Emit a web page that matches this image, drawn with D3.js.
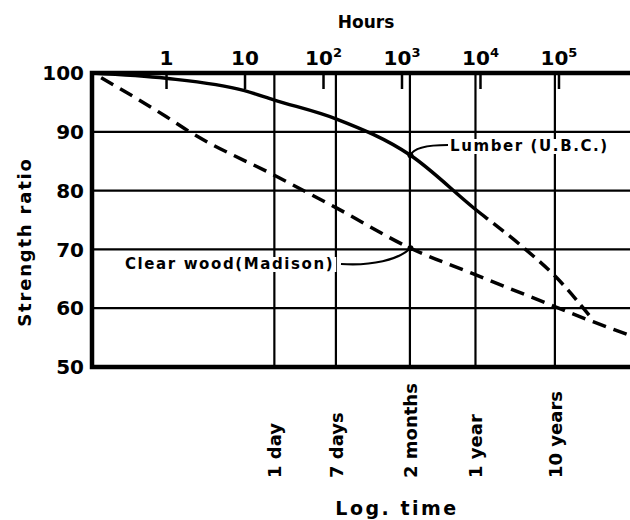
<!DOCTYPE html>
<meta charset="utf-8">
<style>
body { margin: 0; background: #fff; }
text { font-family: "DejaVu Sans", sans-serif; font-weight: bold; fill: #000; }
</style>
<svg width="630" height="520"></svg>
<script src="https://cdn.jsdelivr.net/npm/d3@7"></script>
<script>

// top axis: hours
var hourTicks = [1, 10, 100, 1000, 10000, 100000];
// bottom axis: calendar times (position in hours as drawn)
var timeLabels = ["1 day", "7 days", "2 months", "1 year", "10 years"];
var timeHours = [24, 146, 1280, 8760, 90000];
var ratioTicks = [50, 60, 70, 80, 90, 100];

// Lumber (U.B.C.) - solid, turns dashed after about 1 year
var lumberHours = [0.114, 1, 10, 24, 146, 1300, 8400, 33000, 93000, 275000];
var lumberRatio = [100, 99.1, 97, 95.4, 92.2, 86, 77, 70.7, 65.3, 58.0];
var lumberSolidUntil = 11900;

// Clear wood (Madison) - dashed
var clearHours = [0.149, 1, 2, 24, 146, 1300, 8400, 93000, 275000, 815000];
var clearRatio = [99.2, 92.6, 90, 82.6, 77.1, 70.2, 65.8, 60.2, 57.7, 55.4];

var svg = d3.select("svg");
var plotL = 92, plotR = 630, plotT = 73, plotB = 367;

var x = d3.scaleLog().domain([0.114, 815000]).range([plotL, plotR]);
var y = d3.scaleLinear().domain([50, 100]).range([plotB, plotT]);

var defs = svg.append("defs");
defs.append("clipPath").attr("id", "plot")
  .append("rect").attr("x", plotL).attr("y", plotT - 2)
  .attr("width", plotR - plotL).attr("height", plotB - plotT + 4);
defs.append("clipPath").attr("id", "solidPart")
  .append("rect").attr("x", plotL).attr("y", plotT - 2)
  .attr("width", x(lumberSolidUntil) - plotL).attr("height", plotB - plotT + 4);
defs.append("clipPath").attr("id", "dashPart")
  .append("rect").attr("x", x(lumberSolidUntil)).attr("y", plotT - 2)
  .attr("width", plotR - x(lumberSolidUntil)).attr("height", plotB - plotT + 4);

// grid
var grid = svg.append("g").attr("stroke", "#000").attr("stroke-width", 2.2);
grid.selectAll(".h").data(ratioTicks.slice(1, -1)).enter().append("line")
    .attr("x1", plotL).attr("x2", plotR)
    .attr("y1", function(d) { return y(d); })
    .attr("y2", function(d) { return y(d); });
grid.selectAll(".v").data(timeHours).enter().append("line")
    .attr("x1", function(d) { return x(d); })
    .attr("x2", function(d) { return x(d); })
    .attr("y1", plotT).attr("y2", plotB);

// top axis with inward ticks
var topAxis = svg.append("g")
    .attr("transform", "translate(0," + plotT + ")")
    .call(d3.axisTop(x).tickValues(hourTicks).tickSize(-16).tickPadding(8).tickFormat(""));
topAxis.select(".domain").remove();
topAxis.selectAll(".tick line").attr("stroke", "#000").attr("stroke-width", 2.5);
topAxis.selectAll(".tick text").each(function(d) {
  var t = d3.select(this).attr("font-size", 20);
  var e = Math.round(Math.log10(d));
  if (e == 0) t.text("1");
  else if (e == 1) t.text("10");
  else {
    t.append("tspan").text("10");
    t.append("tspan").attr("font-size", 13).attr("dy", -8).text(e);
  }
});

// frame (left, top, bottom)
svg.append("path")
    .attr("d", "M" + plotR + "," + plotT + "H" + plotL + "V" + plotB + "H" + plotR)
    .attr("fill", "none").attr("stroke", "#000").attr("stroke-width", 4.5);

// y labels
svg.append("g").selectAll("text").data(ratioTicks).enter().append("text")
    .attr("x", 84).attr("y", function(d) { return y(d); })
    .attr("dy", "0.36em").attr("text-anchor", "end")
    .attr("font-size", 20).text(function(d) { return d; });

svg.append("text")
    .attr("transform", "translate(31,242) rotate(-90)")
    .attr("text-anchor", "middle").attr("font-size", 18)
    .attr("letter-spacing", 1.8).text("Strength ratio");

svg.append("text").attr("x", 366).attr("y", 28)
    .attr("text-anchor", "middle").attr("font-size", 17).text("Hours");

// bottom rotated labels
svg.append("g").selectAll("text").data(timeHours).enter().append("text")
    .attr("transform", function(d) { return "translate(" + (x(d) + 7) + ",478) rotate(-90)"; })
    .attr("font-size", 18)
    .text(function(d, i) { return timeLabels[i]; });

svg.append("text").attr("x", 397).attr("y", 515)
    .attr("text-anchor", "middle").attr("font-size", 19)
    .attr("letter-spacing", 2.5).text("Log. time");

// curves
var line = d3.line()
    .x(function(d) { return x(d[0]); })
    .y(function(d) { return y(d[1]); })
    .curve(d3.curveMonotoneX);

var curves = svg.append("g").attr("clip-path", "url(#plot)")
    .attr("fill", "none").attr("stroke", "#000").attr("stroke-width", 3.5);

var lumberPath = line(d3.zip(lumberHours, lumberRatio));
curves.append("path").attr("clip-path", "url(#solidPart)").attr("d", lumberPath);
curves.append("path").attr("clip-path", "url(#dashPart)")
    .attr("stroke-dasharray", "13,7").attr("d", lumberPath);
curves.append("path")
    .attr("stroke-dasharray", "14,8")
    .attr("d", line(d3.zip(clearHours, clearRatio)));

// annotations
function label(txt, lx, ly, px, py, path) {
  var g = svg.append("g");
  var t = g.append("text").attr("x", lx).attr("y", ly)
      .attr("font-size", 15).attr("letter-spacing", 1.6).text(txt);
  var b = t.node().getBBox();
  g.insert("rect", "text").attr("x", b.x - 2).attr("y", b.y + 2)
      .attr("width", b.width + 4).attr("height", b.height - 3).attr("fill", "#fff");
  g.append("path").attr("d", path).attr("fill", "none")
      .attr("stroke", "#000").attr("stroke-width", 2.2);
  g.append("circle").attr("cx", px).attr("cy", py).attr("r", 3);
}

var lp = [x(1300), y(86)];
label("Lumber (U.B.C.)", 450, 151, lp[0], lp[1],
  "M" + lp[0] + "," + lp[1] + " Q" + (lp[0] + 4) + ",145 448,145");
var cp = [x(1300), y(70.2)];
label("Clear wood(Madison)", 125, 269, cp[0], cp[1],
  "M341,264 C372,266 398,260 " + cp[0] + "," + cp[1]);

</script>
